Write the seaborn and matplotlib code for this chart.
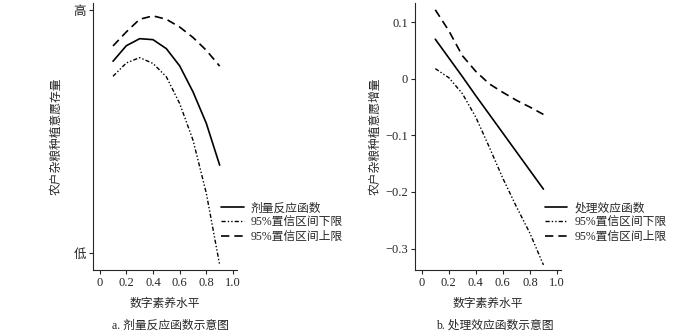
import numpy as np
import pandas as pd
import matplotlib
matplotlib.use("Agg")
import matplotlib.pyplot as plt
import seaborn as sns

sns.set_style("ticks")
plt.rcParams['font.family'] = ['Liberation Serif', 'Noto Sans CJK SC', 'DejaVu Sans']
plt.rcParams['axes.unicode_minus'] = False

x = [0.1, 0.2, 0.3, 0.4, 0.5, 0.6, 0.7, 0.8, 0.9]

# Panel a: dose-response (relative scale, 0 = 低, 1 = 高)
dose_est = [0.790, 0.854, 0.883, 0.879, 0.842, 0.771, 0.664, 0.534, 0.362]
dose_low = [0.728, 0.783, 0.805, 0.781, 0.726, 0.616, 0.465, 0.246, -0.049]
dose_up = [0.853, 0.911, 0.963, 0.977, 0.963, 0.931, 0.888, 0.835, 0.770]

# Panel b: treatment effect
te_est = [0.070, 0.037, 0.004, -0.030, -0.063, -0.096, -0.129, -0.162, -0.195]
te_low = [0.018, 0.002, -0.026, -0.068, -0.121, -0.176, -0.226, -0.273, -0.329]
te_up = [0.122, 0.085, 0.041, 0.013, -0.009, -0.024, -0.038, -0.050, -0.063]

labels_a = ["剂量反应函数", "95%置信区间下限", "95%置信区间上限"]
labels_b = ["处理效应函数", "95%置信区间下限", "95%置信区间上限"]
xticks = [0, 0.2, 0.4, 0.6, 0.8, 1.0]
xticklabels = ["0", "0.2", "0.4", "0.6", "0.8", "1.0"]
yticks_b = [0.1, 0, -0.1, -0.2, -0.3]
yticklabels_b = ["0.1", "0", "\u22120.1", "\u22120.2", "\u22120.3"]

styles = [
    dict(linestyle="-", linewidth=1.2),
    dict(dashes=(3, 1.5, 1, 1.5, 1, 1.5), linewidth=1.0),
    dict(dashes=(5, 3), linewidth=1.2),
]

fig = plt.figure(figsize=(7, 3.36), dpi=100)
axa = fig.add_axes([93/700, 1-270/336, (237-93)/700, 267/336])
axb = fig.add_axes([415/700, 1-270/336, (561-415)/700, 267/336])

fs = 9
cfs = 8.5
lfs = 8.5

def draw(ax, series, labels):
    for s, lab, st in zip(series, labels, styles):
        df = pd.DataFrame({"x": x, "y": s})
        sns.lineplot(data=df, x="x", y="y", ax=ax, color="black", label=lab, **st)
    ax.set_xlim(-0.05, 1.03)
    ax.set_xticks(xticks)
    ax.set_xticklabels(xticklabels, fontsize=fs)
    ax.set_xlabel("数字素养水平", fontsize=cfs, labelpad=6.5)
    for sp in ["top", "right"]:
        ax.spines[sp].set_visible(False)
    ax.tick_params(axis="both", length=3, width=0.8, pad=2)

draw(axa, [dose_est, dose_low, dose_up], labels_a)
axa.set_ylim(-0.07, 1.03)
axa.set_yticks([0, 1])
axa.set_yticklabels(["低", "高"], fontsize=fs)
axa.set_ylabel("农户杂粮种植意愿存量", fontsize=cfs, labelpad=8)
axa.legend(loc="upper left", bbox_to_anchor=(0.85, 0.275), frameon=False, fontsize=lfs,
           handlelength=1.9, handletextpad=0.6, labelspacing=0.18, borderpad=0)

draw(axb, [te_est, te_low, te_up], labels_b)
axb.set_ylim(-0.338, 0.134)
axb.set_yticks(yticks_b)
axb.set_yticklabels(yticklabels_b, fontsize=fs)
axb.set_ylabel("农户杂粮种植意愿增量", fontsize=cfs, labelpad=3)
axb.legend(loc="upper left", bbox_to_anchor=(0.85, 0.275), frameon=False, fontsize=lfs,
           handlelength=1.9, handletextpad=0.6, labelspacing=0.18, borderpad=0)

fig.text(170/700, 1-326/336, "a. 剂量反应函数示意图", ha="center", va="center", fontsize=cfs)
fig.text(495/700, 1-326/336, "b. 处理效应函数示意图", ha="center", va="center", fontsize=cfs)

fig.savefig("out.png", dpi=100)
